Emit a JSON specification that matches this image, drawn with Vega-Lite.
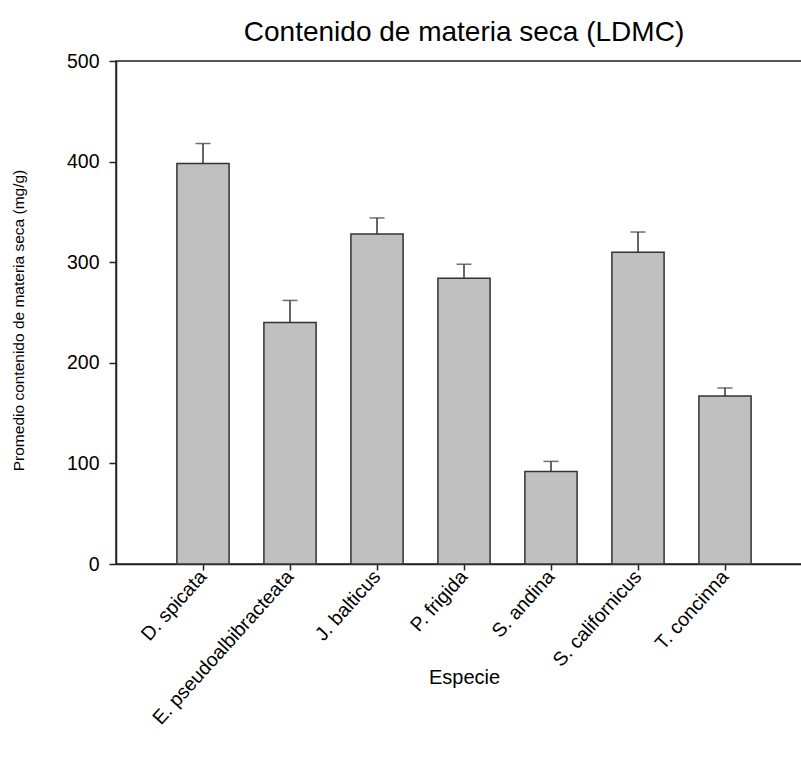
{
  "$schema": "https://vega.github.io/schema/vega-lite/v6.json",
  "autosize": {"type": "none"},
  "padding": {"left": 116, "top": 61, "right": 0, "bottom": 195},
  "width": 696,
  "height": 503,
  "background": "white",
  "title": {
    "text": "Contenido de materia seca (LDMC)",
    "font": "Liberation Sans",
    "fontSize": 28,
    "fontWeight": "normal",
    "color": "#000000",
    "anchor": "middle",
    "baseline": "alphabetic",
    "offset": -18
  },
  "config": {
    "view": {"stroke": "#222222", "strokeWidth": 1.5},
    "axis": {
      "labelFont": "Liberation Sans",
      "titleFont": "Liberation Sans",
      "labelFontSize": 19.5,
      "titleFontSize": 20,
      "titleFontWeight": "normal",
      "labelColor": "#000000",
      "titleColor": "#000000",
      "domainColor": "#222222",
      "domainWidth": 1.5,
      "tickColor": "#222222",
      "tickWidth": 1.5,
      "grid": false
    }
  },
  "data": {
    "values": [
      {"especie": "D. spicata", "ldmc": 398, "upper": 418},
      {"especie": "E. pseudoalbibracteata", "ldmc": 240, "upper": 262},
      {"especie": "J. balticus", "ldmc": 328, "upper": 344},
      {"especie": "P. frigida", "ldmc": 284, "upper": 298},
      {"especie": "S. andina", "ldmc": 92, "upper": 102},
      {"especie": "S. californicus", "ldmc": 310, "upper": 330},
      {"especie": "T. concinna", "ldmc": 167, "upper": 175}
    ]
  },
  "encoding": {
    "x": {
      "field": "especie",
      "type": "nominal",
      "sort": null,
      "scale": {"paddingInner": 0.4, "paddingOuter": 0.7},
      "axis": {
        "title": "Especie",
        "labelAngle": -48,
        "labelLimit": 500,
        "tickSize": 6,
        "labelPadding": 3,
        "titleY": 119,
        "titleBaseline": "alphabetic"
      }
    }
  },
  "layer": [
    {
      "mark": {"type": "rule", "color": "#333333", "strokeWidth": 1.5},
      "encoding": {
        "y": {"field": "ldmc", "type": "quantitative"},
        "y2": {"field": "upper"}
      }
    },
    {
      "mark": {"type": "tick", "color": "#333333", "thickness": 1.5, "size": 15},
      "encoding": {
        "y": {"field": "upper", "type": "quantitative"}
      }
    },
    {
      "mark": {"type": "bar", "fill": "#c0c0c0", "stroke": "#333333", "strokeWidth": 1.5},
      "encoding": {
        "y": {
          "field": "ldmc",
          "type": "quantitative",
          "scale": {"domain": [0, 500], "nice": false},
          "axis": {
            "title": "Promedio contenido de materia seca (mg/g)",
            "titleFontSize": 15.5,
            "values": [0, 100, 200, 300, 400, 500],
            "tickSize": 7,
            "labelPadding": 10,
            "titleX": -98,
            "titleY": 259,
            "titleAngle": -90,
            "titleBaseline": "middle"
          }
        }
      }
    }
  ]
}
